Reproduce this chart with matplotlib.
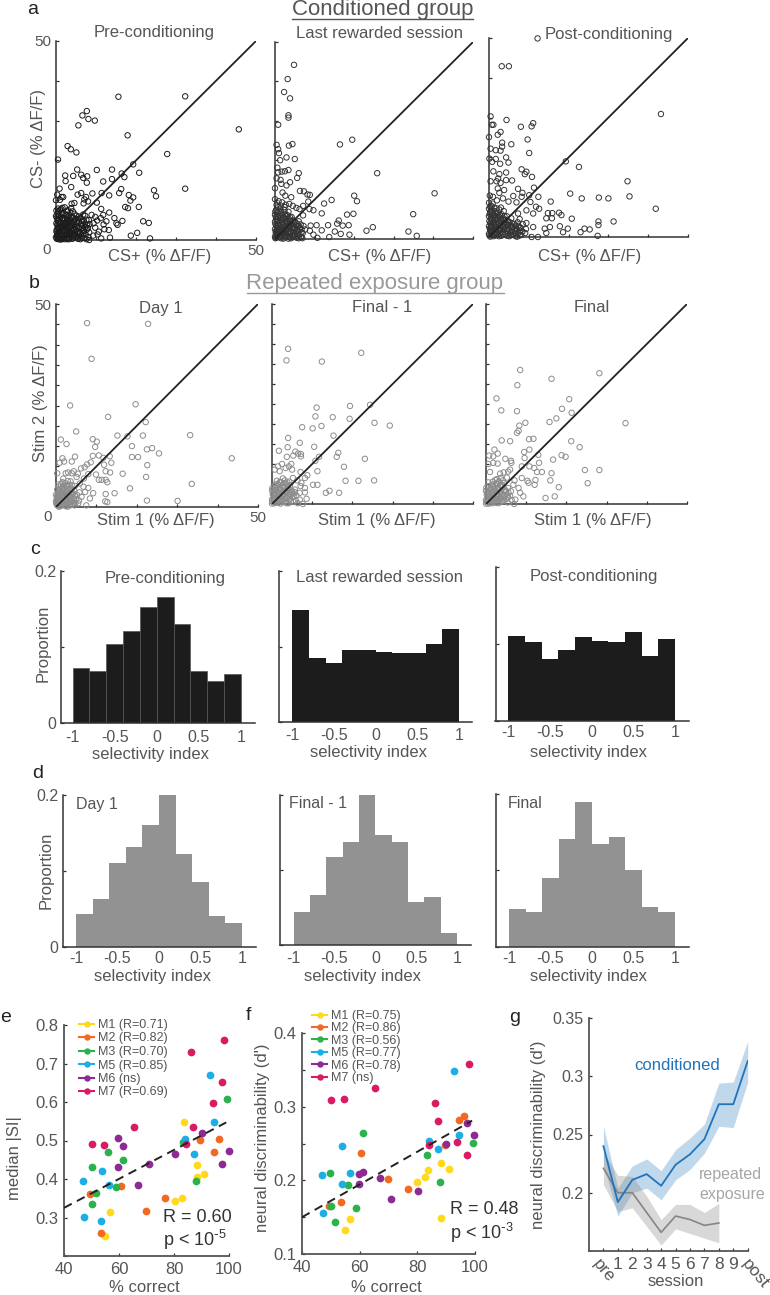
import numpy as np
import matplotlib
matplotlib.use('Agg')
import matplotlib.pyplot as plt
from matplotlib.lines import Line2D
from matplotlib.transforms import Affine2D, ScaledTranslation

plt.rcParams['font.family'] = ['Liberation Sans', 'DejaVu Sans']
plt.rcParams['mathtext.default'] = 'regular'

W, H = 770, 1295
TXT = '#555555'
AX = '#333333'

# ---------- panel a (CS+, CS-) ----------
a1_outer = [(15.6,36),(32.3,36.1),(45.7,27.8),(7.7,32.4),(6.6,31.3),(8.1,30.4),(9.7,30),(5.6,28.8),(17.9,26.3),(2.9,23.6),
 (3.7,22.8),(5.1,22),(.5,20.2),(27.8,21.6),(19.3,19),(20.8,16.9),(14,17.7),(10.2,17.6),(5.3,17.7),(2.3,16.2),(4.3,16.1),
 (6.3,16.4),(7.8,16),(6.8,15.6),(2.4,14.8),(7.7,14.4),(11.8,14.7),(14,15.3),(16.4,16.7),(17.1,15.8),(3.8,13.3),(.9,12.9),
 (32.3,12.9),(24.5,12.5),(25,11),(16.3,12.8),(15.8,11.8),(11.4,11.8),(9.1,11.7),(6.3,11.8),(5.4,11.4),(7.5,10.8),(13.3,11.2),
 (18.2,11.3),(19.3,10.7),(18.6,9.9),(10.2,9.4),(20.7,8.3),(17.3,8.3),(18,8),(11.3,7.8),(13.3,6.9),(11.8,6.3),(9.8,5.8),
 (14.6,5.5),(16.6,4.8),(15.1,4.2),(15.4,3.8),(12.6,4.7),(21.8,4.7),(23.2,4.3),(13.2,2.5),(20.3,1.8),(18.7,1.1),(23.5,.4),
 (13.5,.6),(11.3,.4),(8.3,0),(0,10),(.3,11.4),(1.4,10.8),(1.8,10.8),(1,10.1),(7.1,10.2),(8,9.7),(6.9,9.2),(4.6,9.3),(3.9,9.1),
 (11.2,5.5),(11.9,3.9),(12.1,2.7),(10.7,2.1),(9.4,4.2),(10.3,4.9),(9.8,3.1),(8.9,6.3),(10.4,1.4),(9.3,1.1)]
a1_core = [(.2,.3),(.5,1.2),(.1,2.1),(.7,2.9),(.3,3.8),(.6,4.7),(.2,5.6),(.4,6.5),(.1,7.4),(.5,7.9),(1.1,.4),(1.4,1.3),(1.0,2.2),
 (1.3,3.1),(1.1,4.1),(1.5,5.0),(1.2,5.9),(1.4,6.8),(1.0,7.5),(1.6,8.1),(2.1,.2),(2.3,1.1),(2.0,2.0),(2.4,2.9),(2.1,3.7),(2.5,4.6),
 (2.2,5.5),(2.4,6.4),(2.7,7.2),(3.1,.6),(3.3,1.5),(3.0,2.4),(3.4,3.3),(3.1,4.2),(3.5,5.1),(3.2,6.0),(3.6,6.9),(3.8,8.0),(4.1,.3),
 (4.4,1.2),(4.0,2.1),(4.3,3.0),(4.1,3.9),(4.5,4.8),(4.2,5.7),(4.6,6.6),(5.1,.7),(5.4,1.6),(5.0,2.5),(5.3,3.4),(5.2,4.3),(5.5,5.2),
 (5.1,6.1),(6.1,.2),(6.3,1.1),(6.0,2.0),(6.4,2.9),(6.2,3.9),(6.5,4.8),(6.1,5.6),(6.8,6.4),(7.1,.5),(7.4,1.4),(7.0,2.3),(7.3,3.2),
 (7.2,4.1),(7.6,5.1),(7.3,6.1),(8.1,.8),(8.3,1.9),(8.0,3.0),(8.4,4.0),(8.2,5.0),(1.7,.8),(2.7,1.7),(3.7,2.6),(4.7,.9),(.9,3.4),(2.9,4.9),(.3,1.6)]
a1_dense = [(.0,.7),(.3,1.0),(.6,.2),(.9,.9),(.2,2.6),(.8,1.8),(.5,3.2),(.1,4.2),(.9,4.4),(.4,5.1),(.8,5.4),(.0,6.0),(.7,6.1),(1.2,.1),
 (1.6,.3),(1.9,1.2),(1.2,1.7),(1.7,2.4),(1.4,3.6),(1.8,3.2),(1.9,4.2),(1.7,5.5),(1.8,6.4),(2.4,.5),(2.8,.2),(2.6,1.2),(2.9,2.2),
 (2.3,2.5),(2.8,3.0),(2.7,3.8),(2.3,4.2),(2.8,5.6),(2.7,6.2),(3.3,.2),(3.6,.9),(3.8,1.7),(3.4,2.1),(3.7,3.5),(3.9,4.4),(3.6,4.7),
 (3.8,5.6),(4.3,.7),(4.7,1.6),(4.5,2.4),(4.8,3.3),(4.6,3.8),(4.8,5.3),(5.5,.3),(5.7,1.1),(5.6,2.1),(5.7,3.0),(5.8,4.6),(5.7,5.9),
 (6.5,.6),(6.7,1.7),(6.8,2.6),(6.8,3.7),(6.9,4.7),(7.6,.2),(7.7,2.6),(7.8,3.7),(.6,7.2),(1.3,7.8),(2.2,8.2),(3.0,7.5),(4.2,7.2)]

a2_outer = [(4.8,44.2),(3.2,40.6),(2.3,37.3),(3.8,35.7),(3.4,31.4),(3.4,30.8),(.8,29),(16.4,24),(19.5,25.2),(4.4,24.1),(3.5,23.7),
 (.4,23.9),(.8,22.8),(1,21.8),(2.9,20.7),(5,20.3),(1.3,20),(.6,18.1),(3.4,17.5),(2.5,17.2),(1.7,17.1),(.8,16.9),(6,16.7),(5.6,15.5),
 (25.8,16.7),(3.8,14.4),(1.4,15),(1.6,14),(.4,15.4),(2.9,13.6),(0,12.9),(6.3,12.2),(7.3,12.1),(40.3,11.6),(20,11),(20.7,9.6),
 (14.3,9.9),(12.4,9),(8.8,11.2),(8.2,11.3),(1.9,11.8),(2.6,11),(4.1,10.6),(0,10.1),(8.4,9.5),(7.1,8.4),(9.7,7.3),(8.7,7.6),
 (11.8,6.5),(7.1,6),(18.2,6.2),(19.8,6.4),(34.9,6.3),(16.1,4.7),(15.7,3.9),(17.1,3.4),(18.6,3.5),(13.4,3.5),(10.5,3.5),(9,3.4),
 (24.7,3),(23.1,2.1),(33.7,1.9),(35.8,.8),(15.1,1.9),(16.6,1.3),(18.8,1.1),(13.7,.5),(10.7,.3),(11.8,2.2),(7.6,2.4),(8.8,2.1),
 (9.7,1.1),(6.7,.5),(.9,9.6),(1.8,9.3),(2.7,8.7),(3.6,8.9),(4.5,8.4),(5.4,7.9),(6.2,7.6)]
a2_core = [(.1,.2),(.4,1.1),(.2,2.0),(.6,2.9),(.1,3.8),(.5,4.7),(.2,5.6),(.6,6.5),(.3,7.4),(.8,8.1),(1.1,.5),(1.3,1.4),(1.0,2.3),
 (1.4,3.2),(1.1,4.1),(1.5,5.0),(1.2,5.9),(1.6,6.8),(1.3,7.7),(2.1,.1),(2.3,1.0),(2.0,1.9),(2.4,2.8),(2.1,3.7),(2.5,4.6),(2.2,5.5),
 (2.6,6.4),(2.4,7.3),(3.1,.6),(3.3,1.5),(3.0,2.4),(3.4,3.3),(3.1,4.2),(3.5,5.1),(3.2,6.0),(3.4,6.9),(4.1,.2),(4.3,1.1),(4.0,2.0),
 (4.4,2.9),(4.1,3.8),(4.5,4.7),(4.2,5.6),(5.1,.7),(5.3,1.6),(5.0,2.5),(5.4,3.4),(5.1,4.3),(6.0,.2),(6.2,1.1),(5.9,2.0),(6.3,2.9),
 (6.5,3.7),(6.0,4.5),(7.0,1.5),(7.2,3.3),(1.7,.9),(2.7,1.8),(3.7,.4),(.7,3.4),(1.8,4.4),(4.7,.9)]
a2_dense = [(.0,.6),(.3,.3),(.7,.9),(.2,1.5),(.8,1.7),(.0,2.5),(.5,2.3),(.9,2.8),(.3,3.3),(.8,3.9),(.0,4.4),(.9,4.6),(.3,5.1),(.0,6.2),
 (.8,5.6),(.1,7.0),(.9,7.0),(1.5,.2),(1.8,1.6),(1.4,2.0),(1.8,2.7),(1.6,3.6),(1.9,5.3),(1.8,6.1),(2.4,.4),(2.8,.9),(2.6,1.6),(2.8,2.5),
 (2.6,3.3),(2.9,4.2),(2.7,5.1),(2.9,5.8),(3.4,.1),(3.8,1.3),(3.5,2.1),(3.8,2.9),(3.6,3.7),(3.9,4.6),(3.8,5.5),(4.5,.5),(4.7,1.7),
 (4.6,2.4),(4.8,3.2),(4.7,4.0),(5.5,.3),(5.6,1.2),(5.6,2.2),(5.8,3.2),(5.6,3.9),(6.5,.5),(6.7,1.7),(6.7,2.5),(6.9,.2),(.4,8.6),(1.4,8.5),(2.4,8.1)]

a3_outer = [(12.2,49.9),(3.2,42.9),(5,42.9),(43.2,30.9),(.4,30.3),(4.4,29.4),(.7,28.2),(1.1,28.2),(8,27.7),(11.1,28.6),(10.7,27.8),
 (2.9,26.4),(2.2,25.7),(0,25.1),(9.7,24.5),(3.3,23.7),(5.6,23.3),(3.3,22.7),(2.9,21.7),(1.7,21.8),(.4,22.2),(10.1,21.1),(4.3,20),
 (.1,19.7),(1.7,19.6),(.8,18.9),(4.9,18.7),(2.8,18.4),(19.3,19),(22.6,17.6),(8.2,17),(9.4,16.4),(9,15.8),(10.8,15.1),(1.1,16.5),
 (2.6,15.8),(4.3,16.2),(2.3,14.7),(4.3,14.3),(5.8,14.2),(2.9,13.6),(1.9,14),(.4,14),(34.8,14),(11.3,12.4),(7.3,12.1),(2.2,12.2),
 (3.8,11.8),(2.6,11.1),(8.4,11.1),(6.1,10.3),(8.2,10.1),(10.1,10.5),(12.4,10.1),(20.4,10.9),(23.3,9.7),(27.6,9.9),(30,9.7),
 (35.3,10.2),(15.5,8.9),(41.9,7.1),(6.9,8.7),(10.4,8.8),(11.8,7.6),(12.6,7.1),(14.8,6),(15.9,6),(17.6,6.1),(18.2,5.5),(14.4,4.7),
 (15.8,4.7),(20.8,4.6),(27.5,3.9),(27.5,3),(31.3,3.9),(17.8,2.7),(19.8,2.1),(18.6,1.2),(23,1.2),(24,2.1),(25.3,1.9),(27.3,.3),
 (15.3,2.5),(14,2.1),(14.4,1),(12.3,0),(10.7,0),(9.4,3.5),(11.1,2.5),(7.3,5.9),(9.4,6.7),(11.1,5.9),(.2,10.4),(1,10.1),(2,9.2),
 (3.5,9.7),(4.9,8.9),(0,8.6),(.9,8.4)]
a3_core = [(.1,.4),(.5,1.3),(.2,2.2),(.6,3.1),(.1,4.0),(.5,4.9),(.2,5.8),(.6,6.7),(.3,7.6),(1.1,.2),(1.4,1.1),(1.0,2.0),(1.3,2.9),
 (1.1,3.8),(1.5,4.7),(1.2,5.6),(1.5,6.5),(1.3,7.4),(2.1,.6),(2.4,1.5),(2.0,2.4),(2.4,3.3),(2.1,4.2),(2.5,5.1),(2.2,6.0),(2.6,6.9),
 (3.1,.3),(3.4,1.2),(3.0,2.1),(3.4,3.0),(3.1,3.9),(3.5,4.8),(3.2,5.7),(3.7,6.5),(4.1,.7),(4.4,1.6),(4.0,2.5),(4.4,3.4),(4.1,4.3),
 (4.5,5.2),(5.1,.2),(5.4,1.1),(5.0,2.0),(5.4,2.9),(5.1,3.8),(5.6,4.7),(6.1,.6),(6.4,1.5),(6.0,2.4),(6.4,3.3),(7.1,.1),(7.4,1.0),
 (7.0,1.9),(7.4,2.8),(7.2,3.7),(7.7,4.5),(8.1,.5),(8.4,1.4),(8.0,2.3),(8.5,3.2),(9.1,1.0),(9.3,2.0),(1.7,.9),(2.8,1.8),(.8,2.6)]
a3_dense = [(.0,.8),(.3,.1),(.8,.5),(.3,1.7),(.9,1.5),(.0,2.7),(.5,2.4),(.9,3.5),(.3,3.5),(.8,4.4),(.0,5.2),(.9,5.3),(.3,6.3),(.0,7.1),
 (.9,6.0),(1.6,.4),(1.8,1.7),(1.5,2.5),(1.8,3.3),(1.6,4.2),(1.9,5.0),(1.8,5.9),(2.5,.2),(2.8,1.0),(2.6,2.0),(2.8,2.8),(2.6,3.7),(2.9,4.6),
 (2.7,5.5),(3.5,.7),(3.8,1.9),(3.5,2.5),(3.8,3.4),(3.6,4.3),(3.9,5.2),(4.6,.3),(4.8,1.1),(4.6,2.1),(4.8,3.0),(4.8,3.9),(5.6,.5),(5.7,1.6),
 (5.7,2.5),(5.8,3.4),(6.7,.2),(6.6,1.0),(6.8,2.0),(6.7,2.9),(7.7,.4),(7.8,1.6),(7.7,2.4),(.6,7.8),(1.9,7.2),(3.0,7.4)]

# ---------- panel b (Stim 1, Stim 2) ----------
b1_outer = [(7.7,45.3),(22.8,45.1),(8.8,36.5),(3.5,25),(19.7,25.3),(12.9,22.2),(22.2,20.9),(5,18.6),(15.2,17.6),(17.7,17.4),
 (21.5,17.6),(33.2,17.7),(1.2,16.6),(9.1,16.7),(10.1,16.1),(2.6,15.5),(9.7,14.8),(18.8,15),(22.5,14.2),(23.8,14.5),(25.5,13.2),
 (18.8,12.3),(20.3,12.3),(43.5,12),(4.7,12.4),(1.6,12),(9.1,12.6),(10.6,12.7),(13.3,12.5),(11.7,12.1),(.9,10.9),(2,11.2),(3.9,11.2),
 (8.6,11),(7.7,10.5),(13.7,10.9),(11.9,10.4),(22.6,10.3),(6.2,9.5),(7.1,9.8),(12.3,8.8),(13.4,8.5),(16.5,8.2),(22.3,7.4),(8,8.1),
 (9.9,8),(.3,8.3),(10.6,6.7),(11.3,6.7),(12.3,6.7),(12.7,6.1),(33.6,5.7),(18.3,4.6),(14.5,3.4),(12.3,3.2),(9.2,3.4),(12.2,1.4),
 (12.7,1.2),(22.5,1.6),(30.1,1.5),(7.5,.4),(8,4.7),(8.4,2.1),(6.8,5),(5.9,5.8),(7.2,3.7),(6.3,2.5),(5.1,7.4),(3.9,8.3),(3,8.5),
 (2.4,8.3),(1.8,7),(4.4,8.8),(5.4,8.2),(6.9,7)]
b1_core = [(.1,.8),(.4,1.7),(.2,2.6),(.5,3.5),(.1,1.2),(.6,.5),(.3,4.3),(.8,5.0),(1.1,.2),(1.3,1.1),(1.0,2.0),(1.4,2.9),(1.1,3.8),
 (1.5,4.7),(1.2,5.6),(1.6,6.1),(2.1,.5),(2.3,1.4),(2.0,2.3),(2.4,3.2),(2.1,4.1),(2.5,5.0),(2.2,5.9),(2.9,.1),(3.1,1.0),(2.9,1.9),
 (3.2,2.8),(3.0,3.7),(3.4,4.6),(3.1,5.5),(3.6,6.3),(3.9,.6),(4.1,1.5),(3.8,2.4),(4.2,3.3),(4.4,4.2),(4.8,1.0),(5.0,2.0),(5.2,3.0),
 (.7,1.0),(1.7,1.6),(2.6,2.7),(.9,3.1),(1.9,.9),(4.6,.4)]
b1_dense = [(.0,1.4),(.2,2.0),(.0,3.0),(.3,.4),(.7,.1),(.8,1.6),(.7,2.4),(.8,3.8),(.5,2.9),(.9,4.4),(1.5,.6),(1.7,2.2),(1.4,3.4),(1.8,3.6),
 (1.8,4.5),(2.4,.2),(2.6,1.0),(2.7,2.0),(2.7,3.6),(2.8,4.4),(2.5,1.8),(3.4,.4),(3.6,1.4),(3.5,2.1),(3.6,3.3),(3.8,4.0),(4.4,.9),(4.4,2.0),
 (4.7,2.7),(.5,5.5),(1.9,5.3),(2.8,5.3),(2.9,6.4),(3.9,5.4),(4.7,5.2),(5.5,.9),(5.7,1.6),(5.8,3.6),(1.0,.8),(2.1,2.9)]

b2_outer = [(4,38.8),(3.6,35.9),(12.4,35.6),(22.2,37.8),(11.1,24.1),(10.8,21.9),(19.4,24.5),(24.4,24.8),(15.1,21.7),(19.3,21.3),
 (7.5,19.2),(10.1,18.9),(12.3,19.5),(25.5,20.3),(29.3,19.6),(15.3,17.1),(4,16.5),(6.9,15.3),(3.9,14.2),(10.5,14.3),(1.7,13.3),
 (5.8,13.1),(6.5,12.6),(7.2,12.5),(7.2,11.9),(5.3,12.1),(16.5,12.8),(16.1,11.8),(11.7,11.8),(10.8,10.8),(3.7,11.8),(23.1,11.3),
 (17.9,9.3),(11.3,8.2),(7.1,8),(4.8,10),(4.2,9.4),(2.5,10),(1.5,9.4),(.7,8.6),(1.9,8.2),(3.4,9),(5,8.6),(8.8,7.2),(18.3,5.8),
 (21.5,5.8),(25.4,5.9),(10.2,4.8),(11.3,4.8),(8.2,6.5),(7.3,5.3),(8.2,4),(5.7,3.6),(13.4,2.8),(14.3,3.3),(16.7,2.8),(8.2,2.9),
 (6.9,2.8),(8.6,1.3),(6.9,1.1),(5.9,.9),(7.7,0),(6.3,5.9),(5.2,6.5),(7.1,4.5)]
b2_core = [(.1,.6),(.4,1.5),(.2,2.4),(.5,3.3),(.1,4.0),(.7,.2),(1.1,.4),(1.3,1.3),(1.0,2.2),(1.4,3.1),(1.1,4.0),(1.5,4.9),(1.2,5.8),
 (2.1,.1),(2.3,1.0),(2.0,1.9),(2.4,2.8),(2.1,3.7),(2.5,4.6),(2.2,5.5),(2.7,6.4),(3.1,.5),(3.3,1.4),(3.0,2.3),(3.4,3.2),(3.1,4.1),
 (3.5,5.0),(3.2,5.9),(4.1,.2),(4.3,1.1),(4.0,2.0),(4.4,2.9),(4.1,3.8),(4.5,4.7),(4.3,5.6),(5.1,1.6),(5.3,2.6),(5.0,3.1),(.8,1.1),
 (1.7,.9),(2.7,1.9),(1.8,3.4),(4.7,.7)]
b2_dense = [(.0,1.1),(.0,.1),(.3,2.8),(.0,3.4),(.5,.7),(.8,1.9),(.7,2.7),(.9,3.5),(.6,4.4),(1.6,.3),(1.7,2.1),(1.6,2.6),(1.9,3.9),(1.8,4.7),
 (2.5,.5),(2.8,1.2),(2.6,2.4),(2.8,3.3),(2.8,4.2),(2.9,5.2),(3.6,.2),(3.7,1.6),(3.6,2.7),(3.8,3.6),(3.9,4.5),(4.5,1.3),(4.6,2.4),(4.8,3.4),
 (5.4,.5),(5.5,1.9),(5.6,3.0),(6.1,2.1),(6.4,.2),(.9,4.9),(1.9,5.5),(3.8,5.4)]

b3_outer = [(8.5,33.5),(16.3,31.3),(28.2,32.7),(7.8,29.7),(2.6,26.4),(20.7,26.2),(3.8,23.4),(7.7,23.2),(18.9,23.8),(21.3,22.8),
 (17.5,21.4),(15.8,20.5),(9.8,20.3),(34.7,20.2),(8.3,19.6),(8.1,18.3),(7.7,17.8),(3.9,15.9),(6,15.7),(10.7,16.2),(11.8,16.3),
 (21.2,15.7),(23.3,14.2),(10.8,13.6),(9.5,13),(2.1,13.6),(2.9,12.6),(.8,12.1),(1.8,11.9),(13,12.3),(9.6,11.5),(18.8,12.2),(19.8,11.8),
 (16.7,11.1),(4.8,11.3),(6.2,10.8),(6.3,10.3),(1.8,10.3),(2.9,10.1),(.6,10),(13.2,10.3),(8.9,9.4),(10.8,9.4),(12,9),(12.7,8),(13.9,8),
 (24.6,8.5),(28.2,8.5),(16.3,7.7),(1,8),(3.5,7.6),(6,8.6),(8.9,6.5),(12.3,6),(16,5.9),(10.3,5.8),(10.6,5.3),(12.1,4.8),(25.3,5.2),
 (18.1,4.2),(6.8,4.8),(8.1,4),(9.3,1.9),(8.5,2.8),(14.8,1.5),(17.1,1.9),(7,0),(7.3,1.1),(5.2,6.6),(4.4,7.9),(5.5,8.1),(7.1,5.9)]
b3_core = [(.1,.5),(.4,1.4),(.2,2.3),(.5,3.2),(.1,4.1),(.7,.1),(1.1,.3),(1.3,1.2),(1.0,2.1),(1.4,3.0),(1.1,3.9),(1.5,4.8),(2.1,.6),
 (2.3,1.5),(2.0,2.4),(2.4,3.3),(2.1,4.2),(2.5,5.1),(2.3,6.0),(3.1,.2),(3.3,1.1),(3.0,2.0),(3.4,2.9),(3.1,3.8),(3.5,4.7),(3.2,5.6),
 (3.7,6.5),(4.1,.7),(4.3,1.6),(4.0,2.5),(4.4,3.4),(4.1,4.3),(4.5,5.2),(5.1,1.2),(5.3,2.2),(5.0,3.1),(5.5,4.0),(.8,1.0),(1.7,.9),
 (2.7,1.9),(6.0,2.0),(6.2,3.2)]
b3_dense = [(.0,1.0),(.0,.1),(.3,2.8),(.0,3.3),(.5,.6),(.8,1.8),(.7,2.6),(.9,3.5),(.6,4.5),(1.6,.2),(1.7,2.0),(1.6,2.7),(1.9,3.7),(1.8,4.5),
 (2.5,.3),(2.8,1.1),(2.6,2.5),(2.8,3.1),(2.8,4.0),(2.9,5.0),(3.6,.5),(3.7,1.4),(3.6,2.4),(3.8,3.3),(3.9,4.8),(4.5,1.0),(4.6,2.1),(4.8,3.5),
 (5.4,.4),(5.5,1.7),(5.6,2.8),(6.4,1.0),(.6,5.4),(1.7,5.6),(2.7,6.2),(4.2,5.9)]

# ---------- histograms ----------
bin_edges = [-1, -.8, -.6, -.4, -.2, 0, .2, .4, .6, .8, 1]
c1_heights = [.072,.069,.104,.121,.152,.166,.130,.069,.055,.065]
c2_heights = [.148,.085,.078,.096,.096,.093,.091,.091,.103,.123]
c3_heights = [.111,.102,.080,.092,.109,.104,.102,.116,.085,.106]
d1_heights = [.044,.063,.110,.132,.161,.200,.122,.085,.041,.031]
d2_heights = [.044,.067,.118,.137,.200,.147,.137,.057,.064,.016]
d3_heights = [.049,.046,.090,.141,.190,.135,.144,.101,.052,.046]

# ---------- panels e, f ----------
mouse_colors = ['#FFD91A', '#F26A21', '#2BB24C', '#1CAEE4', '#8E2A93', '#D91B63']
e_labels = ['M1 (R=0.71)', 'M2 (R=0.82)', 'M3 (R=0.70)', 'M5 (R=0.85)', 'M6 (ns)', 'M7 (R=0.69)']
f_labels = ['M1 (R=0.75)', 'M2 (R=0.86)', 'M3 (R=0.56)', 'M5 (R=0.77)', 'M6 (R=0.78)', 'M7 (ns)']
e_m1 = [(83.8,.548),(88.2,.436),(88.2,.406),(91,.412),(83,.35),(80.2,.343),(56.7,.314),(54.9,.252)]
e_m2 = [(49.3,.361),(60.7,.383),(53.5,.26),(69.8,.317),(76.8,.351),(89.4,.501),(96.3,.505),(94.6,.47)]
e_m3 = [(50,.43),(55.9,.469),(61.3,.45),(51.6,.363),(50.3,.335),(59,.379),(83.2,.497),(88,.394),(99.4,.609)]
e_m5 = [(47,.395),(53.7,.422),(56.5,.385),(47.2,.302),(53.6,.292),(83.9,.503),(87.2,.465),(94.5,.549),(93,.671)]
e_m6 = [(59.7,.507),(61.3,.486),(59.7,.43),(71,.44),(67,.385),(80.3,.465),(90,.52),(97.3,.44),(99.9,.472)]
e_m7 = [(50,.491),(54.5,.489),(65.4,.534),(84.3,.49),(87,.536),(86.2,.731),(94,.597),(97.3,.652),(98,.761)]
e_fit_x, e_fit_y = [40, 99], [.325, .547]
f_m1 = [(54.9,.133),(56.7,.148),(88.2,.149),(80,.198),(82.8,.204),(83.6,.214),(88.2,.224),(91,.215)]
f_m2 = [(49.3,.165),(53.5,.171),(60.5,.237),(69.7,.202),(76.7,.188),(89.6,.248),(94.4,.282),(96.2,.288)]
f_m3 = [(50.2,.165),(51.6,.143),(55.8,.193),(58.9,.162),(49.8,.210),(61.2,.264),(83.2,.235),(88,.198),(99.4,.251)]
f_m5 = [(47,.207),(47.4,.156),(53.7,.195),(53.7,.247),(56.5,.210),(83.9,.254),(87.2,.242),(94.3,.262),(92.8,.349)]
f_m6 = [(59.7,.195),(59.7,.209),(61.2,.211),(67,.203),(71,.175),(80.3,.185),(89.8,.249),(97.2,.278),(99.8,.261)]
f_m7 = [(50,.309),(54.4,.310),(65.3,.326),(84.2,.248),(86,.305),(87,.281),(93.9,.252),(97.3,.234),(97.9,.358)]
f_fit_x, f_fit_y = [40, 99], [.15, .281]

# ---------- panel g ----------
g_tick_labels = ['pre', '1', '2', '3', '4', '5', '6', '7', '8', '9', 'post']
g_cond = [.240,.192,.211,.216,.206,.224,.233,.246,.276,.276,.313]
g_cond_hi = [.257,.204,.223,.229,.219,.237,.247,.259,.294,.295,.330]
g_cond_lo = [.224,.180,.200,.204,.194,.211,.220,.234,.257,.256,.295]
g_rep = [.221,.200,.200,.183,.166,.180,.177,.172,.174]
g_rep_hi = [.235,.215,.214,.197,.177,.190,.190,.183,.191]
g_rep_lo = [.207,.184,.187,.171,.155,.169,.165,.161,.157]

fig = plt.figure(figsize=(W / 100, H / 100), dpi=100, facecolor='white')
PX = Affine2D().scale(1, -1).translate(0, H)


def axes_px(l, t, r, b):
    ax = fig.add_axes([l / W, 1 - b / H, (r - l) / W, (b - t) / H])
    ax.patch.set_alpha(0)
    ax.spines['top'].set_visible(False)
    ax.spines['right'].set_visible(False)
    for s in ('left', 'bottom'):
        ax.spines[s].set_color(AX)
        ax.spines[s].set_linewidth(1.1)
    return ax


def put(s, x, y, size=12, color=TXT, ha='center', va='center', **kw):
    return fig.text(x, y, s, transform=PX, fontsize=size, color=color, ha=ha, va=va, **kw)


def xlab(ax, s, x, y, size=12):
    ax.set_xlabel(s, fontsize=size, color=TXT, va='center', ha='center')
    ax.xaxis.set_label_coords(x, y, transform=PX)


def ylab(ax, s, x, y, size=12):
    ax.set_ylabel(s, fontsize=size, color=TXT, va='center', ha='center')
    ax.yaxis.set_label_coords(x, y, transform=PX)


def scatter_panel(box, point_sets, color, yminor, labelled=False):
    ax = axes_px(*box)
    pts = np.array(sum(point_sets, []))
    ax.scatter(pts[:, 0], pts[:, 1], s=15, facecolors='none', edgecolors=color, linewidths=.7, clip_on=False, zorder=3)
    ax.plot([0, 50], [0, 50], color='#222222', lw=1.3, zorder=4)
    ax.set_xlim(0, 50)
    ax.set_ylim(0, 50)
    xt = [0, 10, 20, 30, 40, 50]
    ax.set_xticks(xt)
    ax.set_xticklabels(['', '', '', '', '', '50' if labelled else ''])
    yt = list(np.arange(0, 51, yminor))
    ax.set_yticks(yt)
    ax.set_yticklabels([''] * (len(yt) - 1) + ['50' if labelled else ''])
    ax.tick_params(direction='in', length=2.5, width=.9, color=AX, labelcolor=TXT, labelsize=11, pad=3)
    return ax


def hist_panel(box, x_span, heights, color, edge, labelled=False, pad=5):
    ax = axes_px(*box)
    l, t, r, b = box
    ppu = (x_span[1] - x_span[0]) / 2
    ax.bar(bin_edges[:-1], heights, width=np.diff(bin_edges), align='edge', color=color,
           edgecolor=edge, linewidth=.5 if edge != 'none' else 0)
    ax.set_xlim((l - x_span[0]) / ppu - 1, (r - x_span[0]) / ppu - 1)
    ax.set_ylim(0, .2)
    ax.set_xticks([-1, -.5, 0, .5, 1])
    ax.set_xticklabels(['-1', '-0.5', '0', '0.5', '1'])
    ax.set_yticks([0, .1, .2])
    ax.set_yticklabels(['0', '', '0.2'] if labelled else ['', '', ''])
    ax.tick_params(axis='x', length=0, labelsize=11.5, labelcolor=TXT, pad=pad)
    ax.tick_params(axis='y', direction='in', length=2, width=.9, color=AX, labelsize=11.5, labelcolor=TXT, pad=3)
    return ax


# Panel a
a1 = scatter_panel((56, 41, 256, 240), [a1_outer, a1_core, a1_dense], '#1a1a1a', 10, True)
a2 = scatter_panel((275, 42, 473, 239), [a2_outer, a2_core, a2_dense], '#333333', 10)
a3 = scatter_panel((489, 38, 688, 237), [a3_outer, a3_core, a3_dense], '#333333', 10)
for ax, cx in ((a1, 160), (a2, 380), (a3, 590)):
    xlab(ax, 'CS+ (% ΔF/F)', cx, 256)
ylab(a1, 'CS- (% ΔF/F)', 38, 138)
put('Pre-conditioning', 154, 33)
put('Last rewarded session', 380, 33)
put('Post-conditioning', 609, 35)
put('0', 47, 250, size=11)

# Panel b
b1 = scatter_panel((56, 304, 258, 507), [b1_outer, b1_core, b1_dense], '#8c8c8c', 5, True)
b2 = scatter_panel((272, 304, 473, 504), [b2_outer, b2_core, b2_dense], '#8c8c8c', 5)
b3 = scatter_panel((486, 304, 687, 504), [b3_outer, b3_core, b3_dense], '#8c8c8c', 5)
for ax, cx in ((b1, 156), (b2, 377), (b3, 593)):
    xlab(ax, 'Stim 1 (% ΔF/F)', cx, 521)
ylab(b1, 'Stim 2 (% ΔF/F)', 41, 403)
put('Day 1', 161, 308)
put('Final - 1', 382, 308)
put('Final', 592, 308)
put('0', 48, 517, size=11)

# Group headers
put('Conditioned group', 383, 9, size=16)
fig.add_artist(Line2D([292 / W, 473 / W], [1 - 19 / H] * 2, color='#555555', lw=1))
put('Repeated exposure group', 375, 283, size=16, color='#999999')
fig.add_artist(Line2D([247 / W, 504 / W], [1 - 293 / H] * 2, color='#999999', lw=1))

# Panels c, d
c1 = hist_panel((60.5, 571, 255, 723), (72.6, 241), c1_heights, '#1c1c1c', '#555555', True)
c2 = hist_panel((279, 571, 472, 722), (292.4, 459), c2_heights, '#1c1c1c', 'none', pad=4)
c3 = hist_panel((495.5, 567, 689, 721), (508.5, 675), c3_heights, '#1c1c1c', 'none', pad=3)
for ax, cx, cy in ((c1, 150, 755), (c2, 369, 753), (c3, 588, 752)):
    xlab(ax, 'selectivity index', cx, cy)
ylab(c1, 'Proportion', 43, 643)
put('Pre-conditioning', 165, 578)
put('Last rewarded session', 380, 578)
put('Post-conditioning', 594, 577)

d1 = hist_panel((62.8, 795, 255.6, 947), (76, 242), d1_heights, '#929292', 'none', True, pad=3)
d2 = hist_panel((280, 795, 471, 945), (293.7, 457), d2_heights, '#929292', 'none', pad=4)
d3 = hist_panel((495.5, 794, 689, 946.7), (509, 675), d3_heights, '#929292', 'none', pad=3)
for ax, cx in ((d1, 152), (d2, 363), (d3, 588)):
    xlab(ax, 'selectivity index', cx, 976)
ylab(d1, 'Proportion', 46, 870)
put('Day 1', 76, 804, ha='left', size=11.5)
put('Final - 1', 289, 804, ha='left', size=11.5)
put('Final', 508, 804, ha='left', size=11.5)


def mice_panel(box, groups, fit_x, fit_y, labels, legend_xy, ylim, yticks, ylabels, labelspacing):
    ax = axes_px(*box)
    ax.plot(fit_x, fit_y, color='#222222', lw=1.4, dashes=(4.5, 3), zorder=4)
    for g, c in zip(groups, mouse_colors):
        arr = np.array(g)
        ax.scatter(arr[:, 0], arr[:, 1], s=31, color=c, linewidths=0, clip_on=False, zorder=3)
    ax.set_xlim(40, 100)
    ax.set_ylim(*ylim)
    ax.set_xticks([40, 60, 80, 100])
    ax.set_yticks(yticks)
    ax.set_yticklabels(ylabels)
    ax.tick_params(direction='in', length=2.5, width=.9, color=AX, labelcolor=TXT, labelsize=12, pad=4)
    ax.spines['left'].set_color('#555555')
    ax.spines['bottom'].set_color('#555555')
    ax.spines['left'].set_linewidth(1.3)
    ax.spines['bottom'].set_linewidth(1.3)
    handles = [Line2D([], [], color=c, lw=1.5, marker='o', ms=3.6) for c in mouse_colors]
    ax.legend(handles, labels, loc='upper left', bbox_to_anchor=legend_xy, bbox_transform=PX, frameon=False,
              fontsize=9, labelcolor=TXT, borderpad=0, borderaxespad=0, handlelength=1.2,
              handletextpad=.3, labelspacing=labelspacing)
    return ax


e_ax = mice_panel((64, 1025, 229, 1256), [e_m1, e_m2, e_m3, e_m5, e_m6, e_m7], e_fit_x, e_fit_y, e_labels, (79, 1019),
                  (.2, .8), [.2, .3, .4, .5, .6, .7, .8], ['', '0.3', '0.4', '0.5', '0.6', '0.7', '0.8'], .12)
f_ax = mice_panel((302, 1033, 475, 1254), [f_m1, f_m2, f_m3, f_m5, f_m6, f_m7], f_fit_x, f_fit_y, f_labels, (312, 1010),
                  (.1, .4), [.1, .15, .2, .25, .3, .35, .4], ['0.1', '', '0.2', '', '0.3', '', '0.4'], .03)
xlab(e_ax, '% correct', 144, 1288)
xlab(f_ax, '% correct', 386, 1288)
ylab(e_ax, 'median |SI|', 15, 1158)
ylab(f_ax, "neural discriminability (d')", 262, 1138)
put('R = 0.60', 163, 1218, size=13, color='#333333', ha='left')
put(r'p < 10$^{\text{-}5}$', 163, 1240, size=13, color='#333333', ha='left')
put('R = 0.48', 450, 1210, size=13, color='#333333', ha='left')
put(r'p < 10$^{\text{-}3}$', 450, 1233, size=13, color='#333333', ha='left')

# Panel g
g = axes_px(589, 1018, 747.7, 1251)
xc = np.arange(len(g_cond))
xr = np.arange(len(g_rep))
g.fill_between(xc, g_cond_lo, g_cond_hi, color='#1f74bb', alpha=.28, linewidth=0)
g.fill_between(xr, g_rep_lo, g_rep_hi, color='#808080', alpha=.3, linewidth=0)
g.plot(xr, g_rep, color='#858585', lw=1.2)
g.plot(xc, g_cond, color='#1f74bb', lw=1.3)
g.set_xlim(-1, 10)
g.set_ylim(.15, .35)
g.set_xticks(xc)
g.set_xticklabels(g_tick_labels)
g.set_yticks([.2, .25, .3, .35])
g.set_yticklabels(['0.2', '0.25', '0.3', '0.35'])
g.tick_params(axis='y', direction='in', length=2.5, width=.9, color=AX, labelcolor=TXT, labelsize=11.5, pad=4)
g.tick_params(axis='x', direction='in', length=2.5, width=.9, color=AX, labelcolor=TXT, labelsize=12.5, pad=4)
for idx, shift in ((0, 0), (10, 8 / 100)):
    lab = g.get_xticklabels()[idx]
    lab.set_rotation(-50)
    lab.set_ha('center')
    lab.set_transform(lab.get_transform() + ScaledTranslation(shift, 0, fig.dpi_scale_trans))
g.spines['left'].set_color('#555555')
g.spines['bottom'].set_color('#555555')
g.spines['left'].set_linewidth(1.3)
g.spines['bottom'].set_linewidth(1.3)
xlab(g, 'session', 676, 1281)
ylab(g, "neural discriminability (d')", 538, 1135)
put('conditioned', 677, 1066, color='#1f74bb')
put('repeated', 699, 1175, ha='left', size=11.5, color='#a6a6a6')
put('exposure', 699, 1195, ha='left', size=11.5, color='#a6a6a6')

# Panel letters
for s, x, y in (('a', 33, 9), ('b', 34, 284), ('c', 35, 550), ('d', 38, 773), ('e', 6, 1017), ('f', 248, 1015), ('g', 515, 1018)):
    put(s, x, y, size=14, color='#222222')

fig.savefig('out.png', dpi=100)
